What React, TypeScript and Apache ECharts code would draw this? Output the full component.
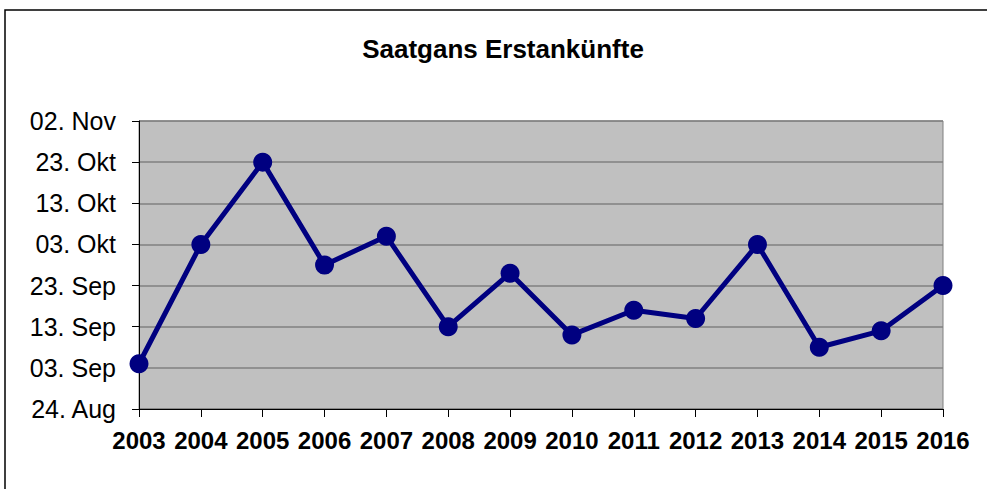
import React, { useEffect, useRef } from "react";
import * as echarts from "echarts";

const TITLE = "Saatgans Erstankünfte";
const years = ["2003", "2004", "2005", "2006", "2007", "2008", "2009", "2010", "2011", "2012", "2013", "2014", "2015", "2016"];
// first arrival dates (month-day)
const arrivals = ["09-04", "10-03", "10-23", "09-28", "10-05", "09-13", "09-26", "09-11", "09-17", "09-15", "10-03", "09-08", "09-12", "09-23"];
const axisStart = "08-24"; // 24. Aug
const axisEnd = "11-02"; // 02. Nov
const tickDays = 10;
const monthNames = ["Jan", "Feb", "Mär", "Apr", "Mai", "Jun", "Jul", "Aug", "Sep", "Okt", "Nov", "Dez"];

const DAY = 86400000;
const toTs = (md: string) => {
  const [m, d] = md.split("-").map(Number);
  return Date.UTC(2001, m - 1, d);
};
const base = toTs(axisStart);
const toOffset = (md: string) => Math.round((toTs(md) - base) / DAY);

export default function App() {
  const ref = useRef<HTMLDivElement>(null);
  useEffect(() => {
    if (!ref.current) return;
    const chart = echarts.init(ref.current, undefined, { renderer: "svg" });
    chart.setOption({
      animation: false,
      backgroundColor: "#ffffff",
      graphic: [
        {
          type: "rect",
          shape: { x: 5, y: 10, width: 1100, height: 600 },
          style: { fill: "none", stroke: "#000000", lineWidth: 1.5 },
          silent: true,
          z: 100,
        },
        {
          type: "text",
          x: 503,
          y: 49,
          style: {
            text: TITLE,
            font: "bold 26px 'Liberation Sans', Arial, sans-serif",
            fill: "#000000",
            align: "center",
            verticalAlign: "middle",
          },
        },
      ],
      grid: {
        left: 139,
        top: 121,
        right: 44,
        bottom: 80,
        show: true,
        backgroundColor: "#C0C0C0",
        borderColor: "#808080",
        borderWidth: 1,
      },
      xAxis: {
        type: "category",
        data: years,
        boundaryGap: false,
        axisLine: { lineStyle: { color: "#000000", width: 1 } },
        axisTick: { show: true, length: 8, alignWithLabel: true, lineStyle: { color: "#000000" } },
        axisLabel: {
          color: "#000000",
          fontFamily: "'Liberation Sans', Arial, sans-serif",
          fontWeight: "bold",
          fontSize: 24,
          margin: 19,
          interval: 0,
        },
        splitLine: { show: false },
      },
      yAxis: {
        type: "value",
        min: 0,
        max: toOffset(axisEnd),
        interval: tickDays,
        axisLine: { show: true, lineStyle: { color: "#000000", width: 1 } },
        axisTick: { show: true, length: 7, lineStyle: { color: "#000000" } },
        axisLabel: {
          color: "#000000",
          fontFamily: "'Liberation Sans', Arial, sans-serif",
          fontSize: 25,
          margin: 23,
          formatter: (v: number) => {
            const dt = new Date(base + v * DAY);
            const d = String(dt.getUTCDate()).padStart(2, "0");
            return d + ". " + monthNames[dt.getUTCMonth()];
          },
        },
        splitLine: { show: true, lineStyle: { color: "#808080", width: 1.5 } },
      },
      series: [
        {
          type: "line",
          data: arrivals.map(toOffset),
          symbol: "circle",
          symbolSize: 19,
          lineStyle: { color: "#000080", width: 5 },
          itemStyle: { color: "#000080" },
        },
      ],
    });
    return () => chart.dispose();
  }, []);
  return <div ref={ref} style={{ position: "fixed", left: 0, top: 0, width: 987, height: 489 }} />;
}
